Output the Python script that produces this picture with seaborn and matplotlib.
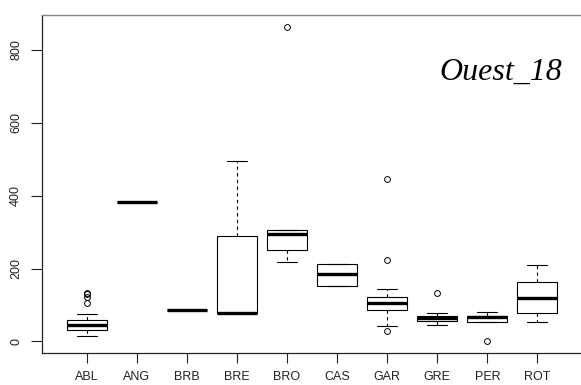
import matplotlib
matplotlib.use("Agg")
import matplotlib.pyplot as plt
import pandas as pd
import numpy as np
import seaborn as sns

sites = ["ABL", "ANG", "BRB", "BRE", "BRO", "CAS", "GAR", "GRE", "PER", "ROT"]
ABL = [16, 22, 26, 29, 31, 32, 36, 40, 42, 44, 46, 48, 51, 54, 57, 60, 76, 106, 122, 131, 133]
ANG = [383]
BRB = [86]
BRE = [79, 79, 79, 288, 495]
BRO = [219, 251, 294, 306, 862]
CAS = [153, 153, 185, 213, 213]
GAR = [29, 43, 70, 87, 95, 101, 106, 110, 115, 121, 145, 224, 445]
GRE = [46, 50, 55, 60, 63, 66, 70, 79, 134]
PER = [2, 53, 54, 60, 66, 68, 71, 75, 80]
ROT = [52, 78, 119, 163, 210]
yticks = [0, 200, 400, 600, 800]
title = "Ouest_18"

values = [ABL, ANG, BRB, BRE, BRO, CAS, GAR, GRE, PER, ROT]
df = pd.DataFrame({
    "site": np.repeat(sites, [len(v) for v in values]),
    "value": np.concatenate(values).astype(float),
})

sns.set_style("white")
plt.rcParams["font.family"] = ["Liberation Sans", "DejaVu Sans"]

fig = plt.figure(figsize=(5.81, 3.85), dpi=100)
ax = fig.add_axes([41.5 / 581, 32.3 / 385, 541 / 581, 337.7 / 385])

sns.boxplot(data=df, x="site", y="value", order=sites, ax=ax, width=0.8,
            color="white", linecolor="black", linewidth=0.8, whis=1.5,
            fliersize=4.2,
            medianprops=dict(linewidth=2.4, color="black"),
            whiskerprops=dict(linestyle=(0, (3, 3))),
            flierprops=dict(marker="o", markerfacecolor="none",
                            markeredgecolor="black", markeredgewidth=0.7))

ax.set_xlim(-0.9, 9.9)
ax.set_ylim(-31, 896)
ax.set_yticks(yticks)
ax.set_xlabel("")
ax.set_ylabel("")

for side in ["left", "bottom"]:
    ax.spines[side].set_color("#222222")
    ax.spines[side].set_linewidth(0.9)
ax.spines["top"].set_color("#888888")
ax.spines["top"].set_linewidth(1.0)

ax.tick_params(axis="x", length=7, width=0.8, pad=6, labelsize=9,
               colors="#222222", bottom=True)
ax.tick_params(axis="y", length=8, width=0.8, pad=6, labelsize=9,
               colors="#222222", left=True)
for lab in ax.get_yticklabels():
    lab.set_rotation(90)
    lab.set_va("center")

ax.text(0.962, 0.8075, title, transform=ax.transAxes, ha="right",
        va="baseline", fontsize=23, style="italic", color="black",
        family=["Liberation Serif", "DejaVu Serif"])

fig.savefig("out.png", dpi=100)
